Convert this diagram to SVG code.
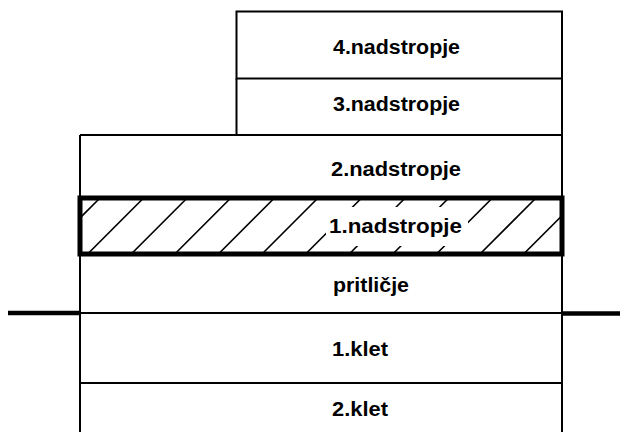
<svg xmlns="http://www.w3.org/2000/svg" width="620" height="432" viewBox="0 0 620 432">
<style>
.ln{stroke:#000;stroke-width:2;fill:none}
.thick{stroke:#000;stroke-width:5;fill:none}
.gl{stroke:#000;stroke-width:4.5;fill:none}
.h{stroke:#000;stroke-width:1.6}
.t{font-family:"Liberation Sans",Arial,sans-serif;font-weight:bold;font-size:20px;fill:#000}
</style>
<defs>
<clipPath id="hclip"><rect x="80" y="198" width="482" height="56"/></clipPath>
</defs>
<rect width="620" height="432" fill="#fff"/>
<g id="floor4">
<rect class="ln" x="236.5" y="11.5" width="325.5" height="67"/>
<text class="t" x="333" y="54" textLength="127" lengthAdjust="spacingAndGlyphs">4.nadstropje</text>
</g>
<g id="floor3">
<path class="ln" d="M236.5 78.5V135M562 78.5V135"/>
<text class="t" x="333" y="111" textLength="127" lengthAdjust="spacingAndGlyphs">3.nadstropje</text>
</g>
<g id="floor2">
<path class="ln" d="M80 135H562M80 135V198M562 135V198"/>
<text class="t" x="331" y="176" textLength="130" lengthAdjust="spacingAndGlyphs">2.nadstropje</text>
</g>
<g id="floor1">
<g clip-path="url(#hclip)">
<path class="h" d="M100 198L44 254M143.6 198L87.6 254M187.2 198L131.2 254M230.8 198L174.8 254M274.4 198L218.4 254M318 198L262 254M361.6 198L305.6 254M405.2 198L349.2 254M448.8 198L392.8 254M492.4 198L436.4 254M536 198L480 254M579.6 198L523.6 254"/>
</g>
<rect x="326" y="207" width="142" height="39" fill="#fff"/>
<rect class="thick" x="80" y="198" width="482" height="56"/>
<text class="t" x="329" y="233" textLength="133" lengthAdjust="spacingAndGlyphs">1.nadstropje</text>
</g>
<g id="ground">
<path class="ln" d="M80 254V313M562 254V313"/>
<text class="t" x="333" y="291.5" textLength="76" lengthAdjust="spacingAndGlyphs">pritličje</text>
</g>
<g id="basement1">
<path class="ln" d="M80 313V383M562 313V383M80 383H562"/>
<text class="t" x="332" y="355.5" textLength="56" lengthAdjust="spacingAndGlyphs">1.klet</text>
</g>
<g id="basement2">
<path class="ln" d="M80 383V432M562 383V432"/>
<text class="t" x="332" y="416" textLength="56" lengthAdjust="spacingAndGlyphs">2.klet</text>
</g>
<g id="connectors">
<path class="gl" d="M8 313H80"/>
<path class="ln" d="M80 313H562"/>
<path class="gl" d="M562 313.5H620"/>
</g>
</svg>
